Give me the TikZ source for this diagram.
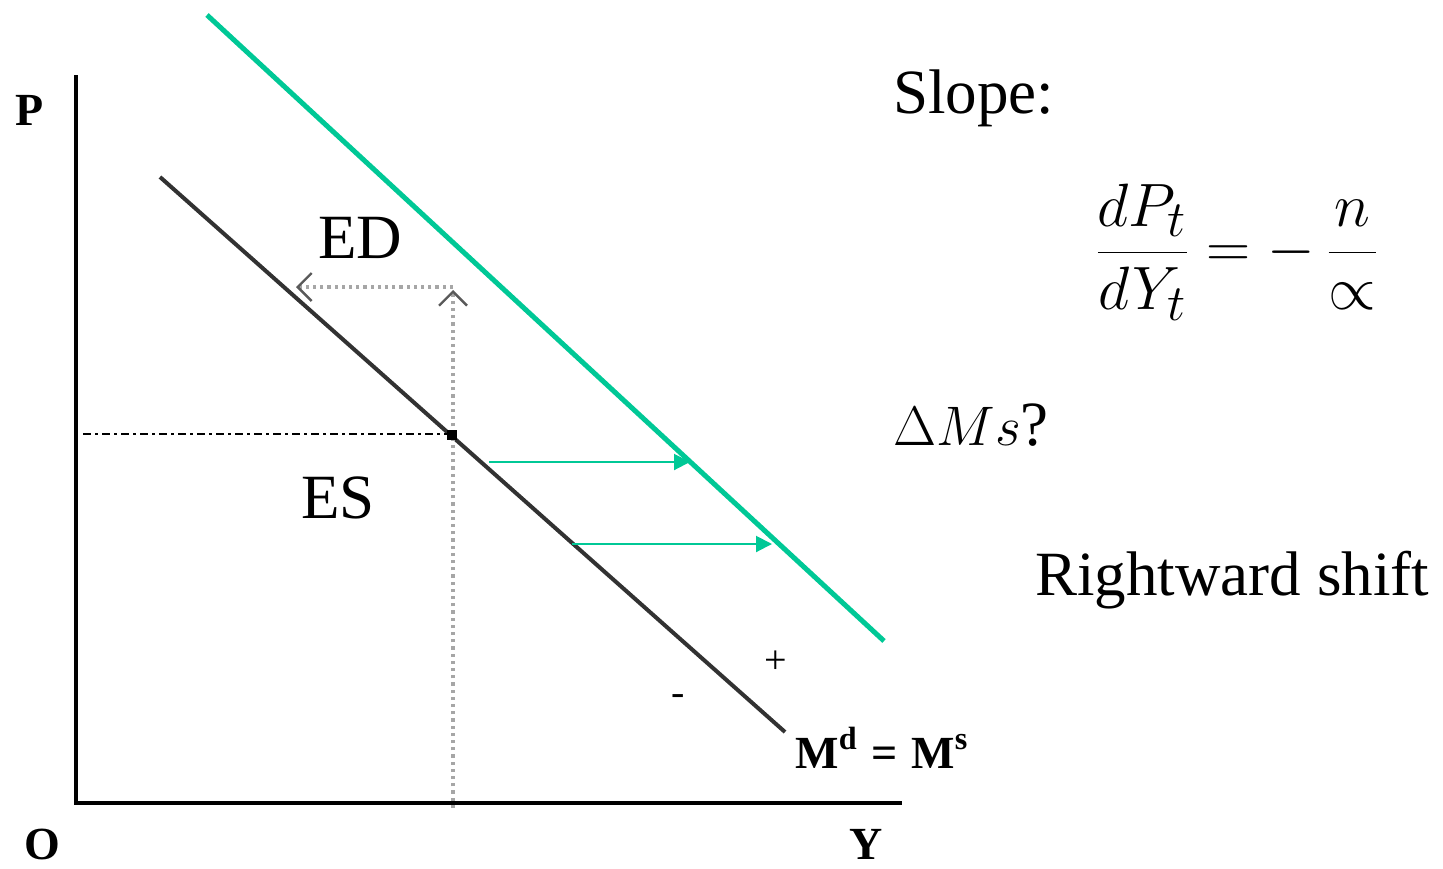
\documentclass[tikz,border=0pt]{standalone}
\usepackage{graphicx}
\usepackage{fontspec}
\setmainfont{Liberation Serif}
\usetikzlibrary{arrows.meta}
\definecolor{grn}{RGB}{0,200,150}
\definecolor{dline}{RGB}{50,50,50}
\begin{document}
\begin{tikzpicture}[x=0.5pt,y=-0.5pt,
  lbl/.style={font=\fontsize{31.5}{36}\selectfont, inner sep=0},
  axlbl/.style={font=\fontsize{23}{28}\selectfont\bfseries, inner sep=0},
  small/.style={font=\fontsize{20}{24}\selectfont, inner sep=0},
  axis/.style={line width=2pt, black},
  demand/.style={line width=2pt, dline},
  shifted/.style={line width=2.5pt, grn},
  garrow/.style={line width=1pt, grn, -{Triangle[length=8pt,width=8pt]}},
  guide/.style={line width=1.6pt, black!35, dotted, -{Straight Barb[length=7pt,width=14pt,line width=1.2pt,black!65]}},
  dashdot/.style={line width=1pt, black, dash pattern=on 4pt off 2pt on 1.5pt off 2pt}]
\useasboundingbox (0,0) rectangle (1443,868);
% axes
\coordinate (top) at (76,75);
\coordinate (orig) at (76,803);
\coordinate (xend) at (902,803);
\draw[axis] (top) -- (orig) -- (xend);
\node[axlbl] (P) at (30,110) {P};
\node[axlbl] (O) at (42,844) {O};
\node[axlbl] (Y) at (866,844) {Y};
% curves
\coordinate (d1) at (160,177);
\coordinate (d2) at (785,732);
\draw[demand] (d1) -- (d2);
\coordinate (g1) at (207,15);
\coordinate (g2) at (884,641);
\draw[shifted] (g1) -- (g2);
% equilibrium
\coordinate (pl) at (83,434);
\coordinate (vb) at (453,808);
\coordinate (vt) at (453,290);
\coordinate (hc) at (453,287);
\coordinate (hl) at (296,287);
\draw[dashdot] (pl) -- (450,434);
\draw[guide] (vb) -- (vt);
\draw[guide] (hc) -- (hl);
\node[fill=black, minimum size=5pt, inner sep=0] (eq) at (452,435) {};
% green arrows
\coordinate (a1s) at (489,462);
\coordinate (a1e) at (690,462);
\coordinate (a2s) at (572,544);
\coordinate (a2e) at (772,544);
\draw[garrow] (a1s) -- (a1e);
\draw[garrow] (a2s) -- (a2e);
% labels
\node[lbl, anchor=base] (ED) at (360,258) {ED};
\node[lbl, anchor=base] (ES) at (338,518) {ES};
\node[lbl, anchor=base west] (slope) at (893,113) {Slope:};
\node[font=\fontsize{24.88}{30}\selectfont, inner sep=0] (frac) at (1237,252) {\scalebox{1.23}{$\displaystyle \frac{dP_t}{dY_t} = -\,\frac{n}{\propto}$}};
\node[lbl, anchor=base west] (dms) at (893,445) {\scalebox{1.12}{$\Delta Ms$}?};
\node[lbl, anchor=base west] (rs) at (1035,595) {Rightward shift};
\node[small] (plus) at (776,662) {+};
\node[small] (minus) at (678,700) {-};
\node[font=\fontsize{23}{28}\selectfont\bfseries, inner sep=0, anchor=base west] (md) at (795,768) {M\textsuperscript{d}\hspace{0.3em}=\hspace{0.3em}M\textsuperscript{s}};
\end{tikzpicture}
\end{document}
